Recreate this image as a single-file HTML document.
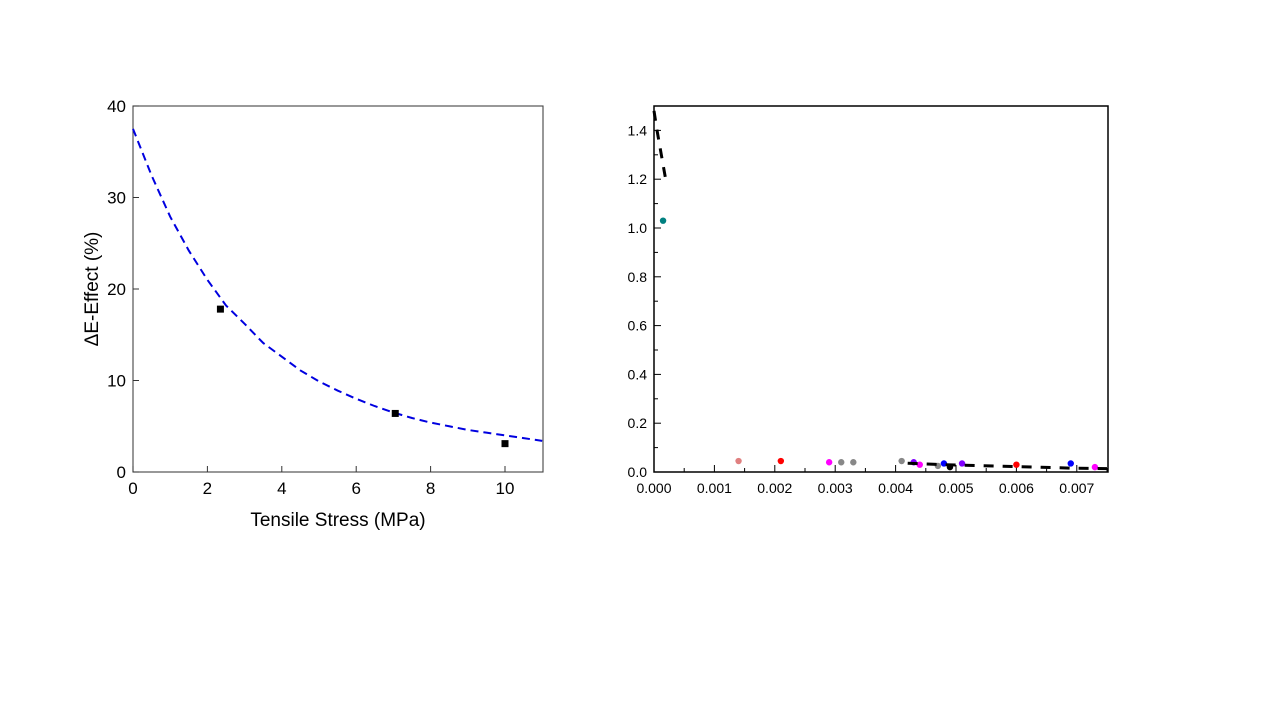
<!DOCTYPE html>
<html><head><meta charset="utf-8"><style>
body{margin:0;background:#fff;width:1280px;height:720px;overflow:hidden}
svg{font-family:"Liberation Sans",sans-serif}
</style></head><body>
<svg id="s" width="1280" height="720"></svg>
<script>
// Left chart data
const leftXTicks=[0,2,4,6,8,10];
const leftYTicks=[0,10,20,30,40];
const leftPtsX=[2.35,7.05,10];
const leftPtsY=[17.8,6.4,3.1];
const fitX=[0,0.5,1,1.5,2,2.5,3,3.5,4,4.5,5,5.5,6,6.5,7,7.5,8,8.5,9,9.5,10,10.5,11];
const fitY=[37.5,32.4,27.9,24.2,21.0,18.2,16.2,14.1,12.6,11.1,9.9,8.9,8.0,7.2,6.5,5.9,5.4,5.0,4.6,4.3,4.0,3.7,3.4];
// Right chart data
const rightXTicks=[0,0.001,0.002,0.003,0.004,0.005,0.006,0.007];
const rightYTicks=[0,0.2,0.4,0.6,0.8,1.0,1.2,1.4];
const curveTopX=[0,0.00005,0.0001,0.00015,0.0002];
const curveTopY=[1.48,1.40,1.33,1.26,1.19];
const curveBotX=[0.0042,0.0045,0.0048,0.0051,0.0054,0.0057,0.006,0.0063,0.0066,0.0069,0.0072,0.0075];
const curveBotY=[0.036,0.033,0.030,0.028,0.026,0.024,0.022,0.020,0.018,0.016,0.015,0.014];
const mkX=[0.00015,0.0014,0.0021,0.0029,0.0031,0.0033,0.0041,0.0043,0.0044,0.0047,0.0048,0.0049,0.0051,0.006,0.0069,0.0073];
const mkY=[1.03,0.045,0.045,0.04,0.04,0.04,0.045,0.04,0.03,0.025,0.035,0.02,0.035,0.03,0.035,0.02];
const mkC=["#008080","#e08080","#ff0000","#ff00ff","#888","#888","#888","#8000ff","#ff00ff","#888","#0000ff","#000","#8000ff","#ff0000","#0000ff","#ff00ff"];

const s=document.getElementById('s');
const NS='http://www.w3.org/2000/svg';
function add(tag,attrs,name,text){const e=document.createElementNS(NS,tag);for(const k in attrs)e.setAttribute(k,attrs[k]);


if(text!==undefined)e.textContent=text;s.appendChild(e);return e;}

// Left axes
const lx=v=>133+v*(505-133)/10, ly=v=>472-v*(472-106)/40;
add('rect',{x:133,y:106,width:410,height:366,fill:'none',stroke:'#444','stroke-width':1.1},'left-plot-frame');
leftXTicks.forEach(t=>{add('line',{x1:lx(t),x2:lx(t),y1:472,y2:466,stroke:'#333'},'left-x-tick');
add('text',{x:lx(t),y:494,'font-size':17,'text-anchor':'middle'},'left-x-tick-label',String(t));});
leftYTicks.forEach(t=>{add('line',{x1:133,x2:139,y1:ly(t),y2:ly(t),stroke:'#333'},'left-y-tick');
add('text',{x:126,y:ly(t)+6,'font-size':17,'text-anchor':'end'},'left-y-tick-label',String(t));});
add('text',{x:338,y:526,'font-size':19,'text-anchor':'middle'},'left-x-axis-title','Tensile Stress (MPa)');
add('text',{x:0,y:0,'font-size':19,'text-anchor':'middle',transform:'translate(98,289) rotate(-90)'},'left-y-axis-title','ΔE-Effect (%)');
add('path',{d:fitX.map((x,i)=>(i?'L':'M')+lx(x)+','+ly(fitY[i])).join(''),fill:'none',stroke:'#0000e0','stroke-width':2,'stroke-dasharray':'8,5'},'fit-curve');
leftPtsX.forEach((x,i)=>add('rect',{x:lx(x)-3.5,y:ly(leftPtsY[i])-3.5,width:7,height:7,fill:'#000'},'data-point'));

// Right axes
const rx=v=>654+v*(1107-654)/0.0075, ry=v=>472-v*(472-106)/1.5;
add('rect',{x:654,y:106,width:454,height:366,fill:'none',stroke:'#000','stroke-width':1.5},'right-plot-frame');
rightXTicks.forEach((t,i)=>{add('line',{x1:rx(t),x2:rx(t),y1:472,y2:465,stroke:'#000'},'right-x-tick');
add('line',{x1:rx(t+0.0005),x2:rx(t+0.0005),y1:472,y2:468,stroke:'#000'},'right-x-minor-tick');
add('text',{x:rx(t),y:493,'font-size':14,'text-anchor':'middle'},'right-x-tick-label',t.toFixed(3));});
rightYTicks.forEach(t=>{add('line',{x1:654,x2:661,y1:ry(t),y2:ry(t),stroke:'#000'},'right-y-tick');
add('line',{x1:654,x2:658,y1:ry(t+0.1),y2:ry(t+0.1),stroke:'#000'},'right-y-minor-tick');
add('text',{x:647,y:ry(t)+5,'font-size':14,'text-anchor':'end'},'right-y-tick-label',t.toFixed(1));});
mkX.forEach((x,i)=>add('circle',{cx:rx(x),cy:ry(mkY[i]),r:3.2,fill:mkC[i]},'marker'));
[[curveTopX,curveTopY],[curveBotX,curveBotY]].forEach(([X,Y])=>add('path',{d:X.map((x,i)=>(i?'L':'M')+rx(x)+','+ry(Y[i])).join(''),fill:'none',stroke:'#000','stroke-width':3,'stroke-dasharray':'10,9'},'model-curve'));
</script>
</body></html>
